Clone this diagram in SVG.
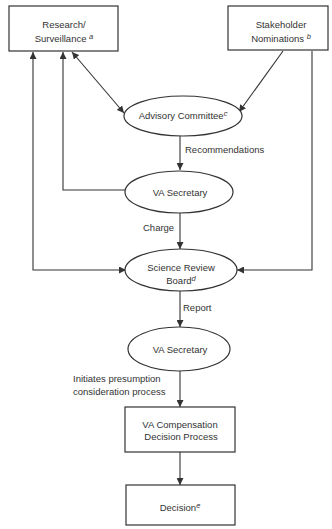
<svg xmlns="http://www.w3.org/2000/svg" width="332" height="529" viewBox="0 0 332 529">
<style>
text{font-family:"Liberation Sans",Arial,sans-serif;font-size:9.5px;fill:#333}
.sup{font-size:7.5px;font-style:italic}
.box{fill:#fff;stroke:#333;stroke-width:1.2}
.c{fill:none;stroke:#333;stroke-width:1.1}
</style>
<defs>
<marker id="ah" viewBox="0 0 10 10" refX="10" refY="5" markerWidth="7" markerHeight="7" markerUnits="userSpaceOnUse" orient="auto-start-reverse">
<path d="M0,0 L10,5 L0,10 z" fill="#333"/>
</marker>
</defs>
<g id="connectors">
<line class="c" x1="72" y1="52" x2="124" y2="113" marker-start="url(#ah)" marker-end="url(#ah)"/>
<line class="c" x1="283" y1="51" x2="239" y2="112" marker-end="url(#ah)"/>
<line class="c" x1="180" y1="136" x2="180" y2="170" marker-end="url(#ah)"/>
<polyline class="c" points="125,190 63,190 63,52" marker-end="url(#ah)"/>
<polyline class="c" points="33,52 33,270 126,270" marker-start="url(#ah)" marker-end="url(#ah)"/>
<polyline class="c" points="312,51 312,270 237,270" marker-end="url(#ah)"/>
<line class="c" x1="180" y1="213" x2="180" y2="249" marker-end="url(#ah)"/>
<line class="c" x1="180" y1="291" x2="180" y2="327" marker-end="url(#ah)"/>
<line class="c" x1="180" y1="371" x2="180" y2="407" marker-end="url(#ah)"/>
<line class="c" x1="180" y1="452" x2="180" y2="485" marker-end="url(#ah)"/>
<text x="185" y="152.5">Recommendations</text>
<text x="143" y="230.5">Charge</text>
<text x="183" y="310.5">Report</text>
<text x="73" y="381.5">Initiates presumption</text>
<text x="73" y="394.5">consideration process</text>
</g>
<g id="research">
<rect class="box" x="9" y="6" width="109" height="45"/>
<text x="64" y="27.5" text-anchor="middle">Research/</text>
<text x="64" y="41.5" text-anchor="middle">Surveillance <tspan class="sup" dy="-3">a</tspan></text>
</g>
<g id="stakeholder">
<rect class="box" x="228" y="6" width="100" height="44"/>
<text x="281" y="27.5" text-anchor="middle">Stakeholder</text>
<text x="281" y="41.5" text-anchor="middle">Nominations <tspan class="sup" dy="-3">b</tspan></text>
</g>
<g id="advisory">
<ellipse class="box" cx="183" cy="116" rx="59" ry="20"/>
<text x="183" y="119" text-anchor="middle">Advisory Committee<tspan class="sup" dy="-3">c</tspan></text>
</g>
<g id="vasec1">
<ellipse class="box" cx="179" cy="192" rx="54" ry="21"/>
<text x="180" y="195.5" text-anchor="middle">VA Secretary</text>
</g>
<g id="srb">
<ellipse class="box" cx="181" cy="270" rx="56" ry="21"/>
<text x="181" y="271" text-anchor="middle">Science Review</text>
<text x="181" y="284" text-anchor="middle">Board<tspan class="sup" dy="-3">d</tspan></text>
</g>
<g id="vasec2">
<ellipse class="box" cx="179" cy="349" rx="51" ry="22"/>
<text x="180" y="353" text-anchor="middle">VA Secretary</text>
</g>
<g id="compensation">
<rect class="box" x="125" y="407" width="110" height="45"/>
<text x="180" y="427.5" text-anchor="middle">VA Compensation</text>
<text x="181" y="439.5" text-anchor="middle">Decision Process</text>
</g>
<g id="decision">
<rect class="box" x="126" y="485" width="109" height="40"/>
<text x="180" y="511" text-anchor="middle">Decision<tspan class="sup" dy="-3">e</tspan></text>
</g>
</svg>
